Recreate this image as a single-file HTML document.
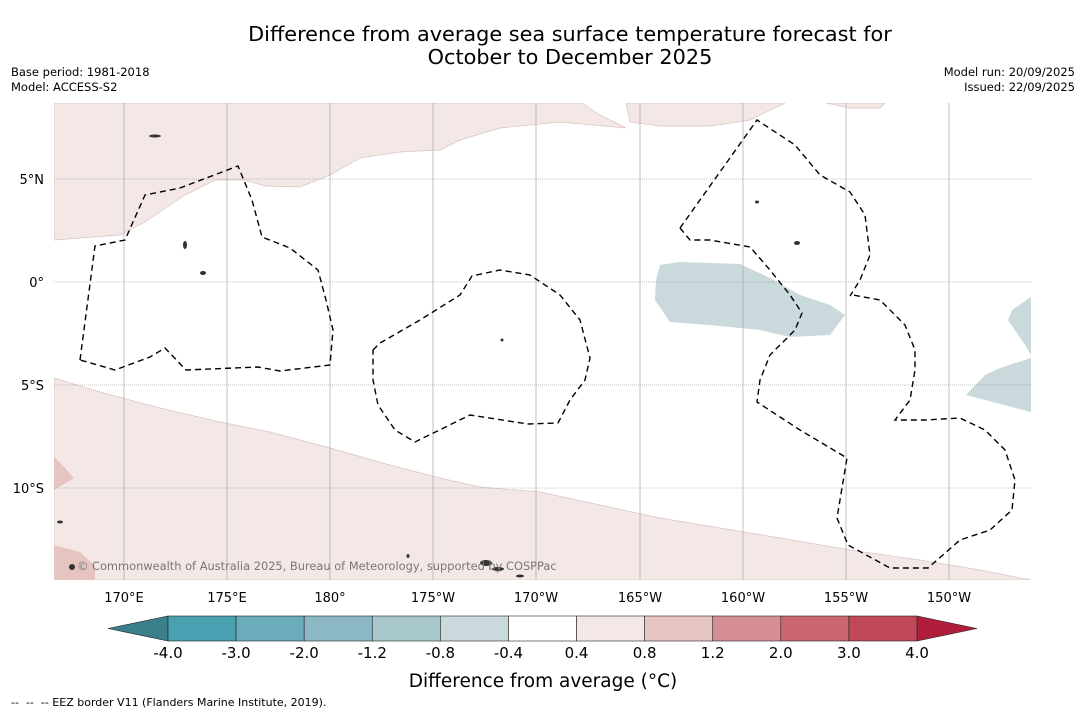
<!DOCTYPE html>
<html><head><meta charset="utf-8"><style>
body{margin:0;background:#fff;font-family:"DejaVu Sans","Liberation Sans",sans-serif;}
svg text{font-family:"DejaVu Sans","Liberation Sans",sans-serif;}
</style></head><body>
<svg id="chart" width="1085" height="713" viewBox="0 0 1085 713" xmlns="http://www.w3.org/2000/svg">
<rect width="1085" height="713" fill="#fff"/>
<text x="570" y="41" font-size="20.8" text-anchor="middle">Difference from average sea surface temperature forecast for</text>
<text x="570" y="64" font-size="20.8" text-anchor="middle">October to December 2025</text>
<text x="11" y="76" font-size="11.5">Base period: 1981-2018</text>
<text x="11" y="91" font-size="11.5">Model: ACCESS-S2</text>
<text x="1075" y="76" font-size="11.5" text-anchor="end">Model run: 20/09/2025</text>
<text x="1075" y="91" font-size="11.5" text-anchor="end">Issued: 22/09/2025</text>
<g>
<clipPath id="mc"><rect x="54" y="103" width="977" height="477"/></clipPath>
<g clip-path="url(#mc)">
<path fill="#f4e8e7" stroke="#d8c4c2" stroke-width="0.7" d="M54,103 L54,240 L120,235 L145,222 L185,195 L215,180 L245,180 L265,186 L300,187 L330,175 L360,158 L400,152 L440,150 L460,140 L500,128 L560,122 L626,128 L600,115 L582,103 Z"/>
<path fill="#f4e8e7" stroke="#d8c4c2" stroke-width="0.7" d="M626,103 L630,122 L660,126 L710,126 L750,120 L785,103 Z M826,103 L850,108 L880,108 L885,103 Z"/>
<path fill="#f4e8e7" stroke="#d8c4c2" stroke-width="0.7" d="M54,378 L100,392 L160,408 L220,422 L270,432 L330,448 L390,465 L440,478 L480,487 L540,492 L600,505 L660,518 L720,528 L780,538 L850,550 L920,560 L980,570 L1031,580 L54,580 Z"/>
<path fill="#e6c5c1" d="M54,456 L74,478 L54,490 Z M54,545 L80,552 L95,566 L95,580 L54,580 Z"/>
<path fill="#c9d9dc" d="M660,265 L680,262 L740,264 L770,278 L800,295 L830,305 L845,315 L830,335 L790,337 L760,330 L720,326 L670,322 L655,300 L656,280 Z M1031,297 L1012,310 L1008,320 L1025,345 L1031,355 Z M1031,358 L1000,368 L985,375 L966,395 L1031,412 Z"/>
<g stroke="#999" stroke-width="0.6">
<line x1="124" y1="103" x2="124" y2="580"/><line x1="227" y1="103" x2="227" y2="580"/><line x1="330" y1="103" x2="330" y2="580"/><line x1="433" y1="103" x2="433" y2="580"/><line x1="536" y1="103" x2="536" y2="580"/><line x1="640" y1="103" x2="640" y2="580"/><line x1="743" y1="103" x2="743" y2="580"/><line x1="846" y1="103" x2="846" y2="580"/><line x1="949" y1="103" x2="949" y2="580"/>
</g>
<g stroke="#888" stroke-width="0.6" stroke-dasharray="1,1">
<line x1="54" y1="179" x2="1031" y2="179"/><line x1="54" y1="282" x2="1031" y2="282"/><line x1="54" y1="385" x2="1031" y2="385"/><line x1="54" y1="488" x2="1031" y2="488"/>
</g>
<g fill="none" stroke="#000" stroke-width="1.4" stroke-dasharray="6,4">
<path d="M80,360 L95,246 L125,240 L145,195 L180,188 L238,166 L252,200 L262,237 L290,248 L318,270 L326,300 L333,330 L330,365 L280,371 L258,367 L186,370 L165,348 L150,357 L115,370 Z"/>
<path d="M373,350 L380,343 L420,320 L460,295 L472,276 L500,270 L530,275 L560,295 L580,320 L590,358 L585,380 L570,400 L558,423 L528,424 L470,415 L415,442 L395,430 L378,405 L373,380 Z"/>
<path d="M680,228 L757,120 L795,145 L820,175 L850,192 L865,215 L870,255 L860,280 L850,296"/>
<path d="M680,228 L690,240 L710,240 L750,247 L770,270 L790,295 L802,313 L795,330 L770,355 L760,380 L757,402 L800,430 L847,458 L837,518 L848,545 L890,568 L928,568 L960,540 L990,530 L1012,510 L1015,480 L1005,450 L985,430 L960,418 L925,420 L895,420 L910,400 L915,370 L915,350 L905,325 L880,300 L853,295"/>
</g>
<g fill="#333">
<ellipse cx="155" cy="136" rx="6" ry="1.5"/><ellipse cx="185" cy="245" rx="2" ry="4"/><ellipse cx="203" cy="273" rx="3" ry="2"/><ellipse cx="486" cy="563" rx="6" ry="3"/><ellipse cx="498" cy="569" rx="6" ry="2"/><ellipse cx="520" cy="576" rx="4" ry="1.5"/><ellipse cx="72" cy="567" rx="3" ry="3"/><ellipse cx="60" cy="522" rx="3" ry="1.5"/><ellipse cx="797" cy="243" rx="3" ry="2"/><ellipse cx="757" cy="202" rx="2" ry="1.5"/><ellipse cx="502" cy="340" rx="1.5" ry="1.5"/><ellipse cx="408" cy="556" rx="1.5" ry="2"/>
</g>
<text x="77" y="570" font-size="11.4" fill="#777">© Commonwealth of Australia 2025, Bureau of Meteorology, supported by COSPPac</text>
</g>
</g>
<g font-size="13" text-anchor="middle">
<text x="124" y="602">170°E</text><text x="227" y="602">175°E</text><text x="330" y="602">180°</text><text x="433" y="602">175°W</text><text x="536" y="602">170°W</text><text x="640" y="602">165°W</text><text x="743" y="602">160°W</text><text x="846" y="602">155°W</text><text x="949" y="602">150°W</text>
</g>
<g font-size="13" text-anchor="end">
<text x="44" y="184">5°N</text><text x="44" y="287">0°</text><text x="44" y="390">5°S</text><text x="44" y="493">10°S</text>
</g>
<g id="cbar"></g>
<text x="543" y="687" font-size="18.5" text-anchor="middle">Difference from average (°C)</text>
<text x="11" y="706" font-size="11" xml:space="preserve">--  --  -- EEZ border V11 (Flanders Marine Institute, 2019).</text>
</svg>
<script>
const cbTicks=["-4.0","-3.0","-2.0","-1.2","-0.8","-0.4","0.4","0.8","1.2","2.0","3.0","4.0"];
const cbColors=["#48a0b0","#6aacb9","#8bb8c4","#a9c8cd","#c9d9dc","#ffffff","#f4e8e7","#e6c5c1","#d68e95","#c9666f","#c04858"];
const cbEnds=["#3a7f8a","#b01e3c"];
const NS="http://www.w3.org/2000/svg";
const g=document.getElementById('cbar');
const x0=168,x1=917,y0=616,h=25,w=(x1-x0)/cbColors.length;
function mk(t,a){const e=document.createElementNS(NS,t);for(const k in a)e.setAttribute(k,a[k]);g.appendChild(e);return e;}
let l=mk('polygon',{points:`${x0},${y0} ${x0},${y0+h} 108,${y0+h/2}`,fill:cbEnds[0],stroke:'#222','stroke-width':0.6});


let r=mk('polygon',{points:`${x1},${y0} ${x1},${y0+h} 977,${y0+h/2}`,fill:cbEnds[1],stroke:'#222','stroke-width':0.6});


cbColors.forEach((c,i)=>{
  const b=mk('rect',{x:x0+i*w,y:y0,width:w,height:h,fill:c,stroke:'#222','stroke-width':0.6});
  
  
});
cbTicks.forEach((t,i)=>{
  const tx=mk('text',{x:x0+i*w,y:658,'font-size':15,'text-anchor':'middle'});
  tx.textContent=t;
  
  
});
</script>
</body></html>
